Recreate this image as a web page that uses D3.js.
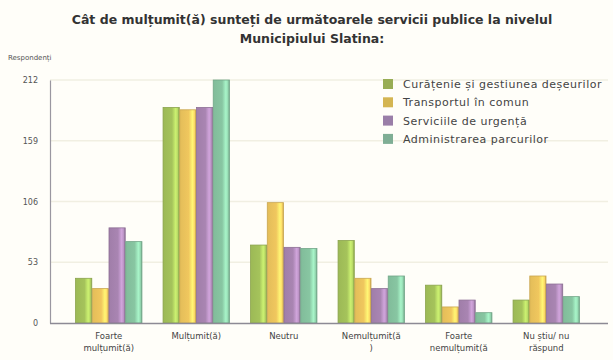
<!DOCTYPE html>
<html><head><meta charset="utf-8">
<script src="https://cdn.jsdelivr.net/npm/d3@7"></script>
<style>
body{margin:0;background:#fffef9;}
svg{display:block;}
</style></head>
<body><svg id="c" width="613" height="360"></svg>
<script>
const categories = [["Foarte","mulțumit(ă)"],["Mulțumit(ă)"],["Neutru"],["Nemulțumit(ă",")"],["Foarte","nemulțumit(ă"],["Nu știu/ nu","răspund"]];
const seriesNames = ["Curățenie și gestiunea deșeurilor","Transportul în comun","Serviciile de urgență","Administrarea parcurilor"];
const curatenie = [39, 188, 68, 72, 33, 20];
const transport = [30, 186, 105, 39, 14, 41];
const urgenta = [83, 188, 66, 30, 20, 34];
const parcuri = [71, 212, 65, 41, 9, 23];
const tickValues = [0, 53, 106, 159, 212];
const title = ["Cât de mulțumit(ă) sunteți de următoarele servicii publice la nivelul","Municipiului Slatina:"];
const yLabel = "Respondenți";

const series = [curatenie, transport, urgenta, parcuri];
const colors = ["#a5c35b","#f0c75e","#a985b2","#88c6a2"];
const legendColors = ["#98ad55","#d4b552","#9a7ea8","#7fae95"];

const svg = d3.select("#c");
svg.append("rect").attr("width",613).attr("height",360).attr("fill","#fffef9");
const defs = svg.append("defs");
colors.forEach((c,i)=>{
  const g = defs.append("linearGradient").attr("id","g"+i).attr("x1","0").attr("x2","1").attr("y1","0").attr("y2","0");
  const base = d3.color(c);
  g.append("stop").attr("offset","0").attr("stop-color",base.darker(0.15));
  g.append("stop").attr("offset","0.55").attr("stop-color",base);
  g.append("stop").attr("offset","0.78").attr("stop-color",base.brighter(0.6));
  g.append("stop").attr("offset","0.9").attr("stop-color",base.brighter(0.3));
  g.append("stop").attr("offset","1").attr("stop-color",base.darker(0.6));
});

const x0 = d3.scaleBand().domain(d3.range(categories.length)).range([65,590]).paddingInner(0.23).paddingOuter(0.115);
const x1 = d3.scaleBand().domain(d3.range(series.length)).range([0,x0.bandwidth()]).padding(0.03);
const y = d3.scaleLinear().domain([0,212]).range([323,80]);

// gridlines
svg.append("g").selectAll("line").data(tickValues.slice(1)).join("line")
  .attr("x1",50).attr("x2",608).attr("y1",d=>y(d)).attr("y2",d=>y(d))
  .attr("stroke","#f1efe2").attr("stroke-width",1.5);

// y axis
const yAxis = svg.append("g").attr("transform","translate(50,0)")
  .call(d3.axisLeft(y).tickValues(tickValues).tickSize(0).tickPadding(12));
yAxis.select(".domain").attr("stroke","#9a97a0").attr("stroke-width",1.2);
yAxis.selectAll("text").attr("font-family","DejaVu Sans").attr("font-size",8).attr("fill","#555");

// bars
const groups = svg.append("g").selectAll("g").data(categories).join("g")
  .attr("transform",(d,i)=>`translate(${x0(i)},0)`);
groups.selectAll("rect").data((d,i)=>series.map((s,j)=>({j,v:s[i]}))).join("rect")
  .attr("x",d=>x1(d.j)).attr("width",x1.bandwidth())
  .attr("y",d=>y(d.v)).attr("height",d=>y(0)-y(d.v))
  .attr("fill",d=>`url(#g${d.j})`)
  .attr("stroke",d=>d3.color(colors[d.j]).darker(0.5)).attr("stroke-width",0.8);

// x axis line
svg.append("line").attr("x1",50).attr("x2",608).attr("y1",y(0)+0.5).attr("y2",y(0)+0.5)
  .attr("stroke","#8d8a95").attr("stroke-width",1.5);

// x labels
const xl = svg.append("g").selectAll("text").data(categories).join("text")
  .attr("x",(d,i)=>x0(i)+x0.bandwidth()/2).attr("y",339)
  .attr("text-anchor","middle").attr("font-family","DejaVu Sans").attr("font-size",8.5).attr("fill","#444");
xl.selectAll("tspan").data(d=>d).join("tspan")
  .attr("x",function(){return this.parentNode.getAttribute("x");})
  .attr("dy",(d,k)=>k===0?0:12).text(d=>d);

// title
svg.append("text").attr("text-anchor","middle").attr("font-family","DejaVu Sans").attr("font-weight","bold")
  .attr("font-size",12.5).attr("fill","#333")
  .selectAll("tspan").data(title).join("tspan").attr("x",312).attr("y",(d,i)=>24+i*19).text(d=>d);

svg.append("text").attr("x",8).attr("y",60).attr("font-family","DejaVu Sans").attr("font-size",7)
  .attr("fill","#555").text(yLabel);

// legend
const lg = svg.append("g").selectAll("g").data(seriesNames).join("g")
  .attr("transform",(d,i)=>`translate(383,${84+i*18.3})`);
lg.append("rect").attr("x",0).attr("y",-5).attr("width",10).attr("height",10).attr("fill",(d,i)=>legendColors[i]);
lg.append("text").attr("x",20).attr("y",4).attr("font-family","DejaVu Sans").attr("font-size",11)
  .attr("letter-spacing",0.5).attr("fill","#444").text(d=>d);
</script></body></html>
